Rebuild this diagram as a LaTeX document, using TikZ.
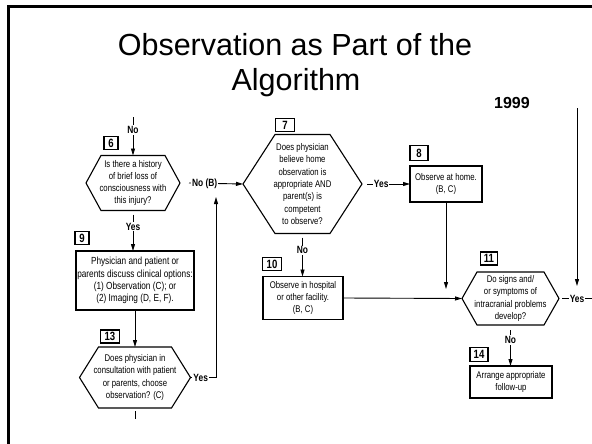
\documentclass[tikz,border=0pt]{standalone}
\usepackage{fontspec}
\setmainfont{Liberation Sans}
\newfontfamily\cond[FakeStretch=0.8]{Liberation Sans}
\usetikzlibrary{arrows.meta}
\begin{document}
\begin{tikzpicture}[x=1pt,y=-1pt,
  every node/.style={inner sep=0pt, outer sep=0pt},
  txt/.style={font=\cond\fontsize{9.7}{12.3}\selectfont, align=center},
  hexline/.style={line width=1.1pt, line join=miter},
  bx/.style={draw, line width=1.1pt, txt},
  num/.style={draw, line width=1.1pt, font=\cond\bfseries\fontsize{12}{12}\selectfont, minimum height=13pt},
  lab/.style={fill=white, font=\cond\bfseries\fontsize{10.5}{10.5}\selectfont, inner sep=1pt},
  conn/.style={line width=0.9pt},
  arr/.style={conn, -{Triangle[length=7pt,width=4pt]}},
  ttl/.style={font=\fontsize{30.5}{30.5}\selectfont, anchor=base},
]
\useasboundingbox (0,0) rectangle (592,444);
% slide frame
\draw[line width=2.8pt] (8.7,444) -- (8.7,6.5) -- (592,6.5);
% title
\node[ttl] (title1) at (295,56) {Observation as Part of the};
\node[ttl] (title2) at (296,91) {Algorithm};
\node[font=\bfseries\fontsize{16}{16}\selectfont, anchor=base] (year) at (512,109) {1999};

% hexagon 6
\node[txt, minimum width=94pt, minimum height=55pt] (h6) at (133,183) {Is there a history\\of brief loss of\\consciousness with\\this injury?};
\draw[hexline] ([xshift=15pt]h6.north west) -- ([xshift=-15pt]h6.north east) -- (h6.east) -- ([xshift=-15pt]h6.south east) -- ([xshift=15pt]h6.south west) -- (h6.west) -- cycle;
\node[num, minimum width=14pt] (n6) at (111,143) {6};

% box 9
\node[bx, minimum width=118pt, minimum height=59pt, font=\cond\fontsize{10.3}{12.3}\selectfont] (b9) at (135,280.5) {Physician and patient or\\parents discuss clinical options:\\(1) Observation (C); or\\(2) Imaging (D, E, F).};
\node[num, minimum width=14pt] (n9) at (82,238) {9};

% hexagon 13
\node[txt, minimum width=111pt, minimum height=61pt] (h13) at (135,377.5) {Does physician in\\consultation with patient\\or parents, choose\\observation? (C)};
\draw[hexline] ([xshift=19pt]h13.north west) -- ([xshift=-19pt]h13.north east) -- (h13.east) -- ([xshift=-19pt]h13.south east) -- ([xshift=19pt]h13.south west) -- (h13.west) -- cycle;
\node[num, minimum width=19pt] (n13) at (110,336.5) {13};

% hexagon 7
\node[txt, minimum width=119pt, minimum height=99pt] (h7) at (302.5,184) {Does physician\\believe home\\observation is\\appropriate AND\\parent(s) is\\competent\\to observe?};
\draw[hexline] ([xshift=32pt]h7.north west) -- ([xshift=-32pt]h7.north east) -- (h7.east) -- ([xshift=-32pt]h7.south east) -- ([xshift=32pt]h7.south west) -- (h7.west) -- cycle;
\node[num, minimum width=19pt] (n7) at (285,125) {7};

% box 8
\node[bx, minimum width=72pt, minimum height=36pt] (b8) at (446,184) {Observe at home.\\(B, C)};
\node[num, minimum width=18pt, minimum height=15pt] (n8) at (419,153) {8};

% box 10
\node[bx, minimum width=80pt, minimum height=43pt] (b10) at (303,298) {Observe in hospital\\or other facility.\\(B, C)};
\node[num, minimum width=19pt] (n10) at (272,264) {10};

% hexagon 11
\node[txt, minimum width=97pt, minimum height=53pt] (h11) at (510.5,298.5) {Do signs and/\\or symptoms of\\intracranial problems\\develop?};
\draw[hexline] ([xshift=15pt]h11.north west) -- ([xshift=-15pt]h11.north east) -- (h11.east) -- ([xshift=-15pt]h11.south east) -- ([xshift=15pt]h11.south west) -- (h11.west) -- cycle;
\node[num, minimum width=17pt] (n11) at (489,258.5) {11};

% box 14
\node[bx, minimum width=82pt, minimum height=32pt] (b14) at (511,382) {Arrange appropriate\\follow-up};
\node[num, minimum width=18pt, minimum height=14pt] (n14) at (479,354.5) {14};

% connectors
\coordinate (t6) at (133,117);
\draw[arr] (t6) -- (h6.north) node[lab, pos=0.34] {No};
\draw[arr] ([yshift=-4pt]h6.south) -- (h6.south |- b9.north) node[lab, pos=0.33] {Yes};
\draw[arr] (b9.south) -- (b9.south |- h13.north);
\coordinate (d13a) at (135,411);
\coordinate (d13b) at (135,419);
\draw[conn] (d13a) -- (d13b);
\coordinate (j13) at (216,377.5);
\coordinate (nb) at (216,197);
\draw[arr] (h13.east) -- node[lab, pos=0.4] {Yes} (j13) -- (nb);
\draw[arr] ([xshift=9pt]h6.east) -- node[lab, pos=0.29] {No (B)} (h7.west);
\draw[arr] ([xshift=5pt]h7.east) -- node[lab, pos=0.33] {Yes} (b8.west);
\draw[arr] ([yshift=-4pt]h7.south) -- (h7.south |- b10.north) node[lab, pos=0.33] {No};
\draw[arr] (b10.east) -- (h11.west);
\coordinate (e8) at (446,289);
\draw[arr] (b8.south) -- (e8);
\coordinate (r1) at (577,108);
\coordinate (r2) at (577,286);
\draw[arr] (r1) -- (r2);
\coordinate (r3) at (592,298.5);
\draw[conn] ([xshift=3pt]h11.east) -- node[lab, pos=0.5] {Yes} (r3);
\draw[arr] ([yshift=-5pt]h11.south) -- (h11.south |- b14.north) node[lab, pos=0.28] {No};
\end{tikzpicture}
\end{document}
